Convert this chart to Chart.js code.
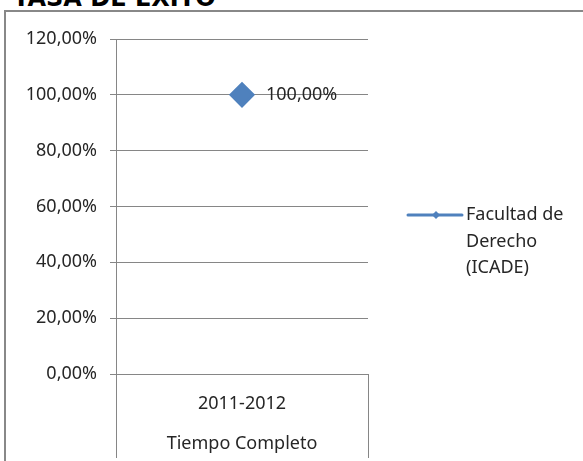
<!DOCTYPE html>
<html>
<head>
<meta charset="utf-8">
<script src="https://cdn.jsdelivr.net/npm/chart.js@4"></script>
<style>
    html, body { margin: 0; padding: 0; background: #fff; }
    #wrap { position: relative; width: 583px; height: 461px; overflow: hidden; }
    #title {
        position: absolute; left: 13px; top: -16px; margin: 0;
        font: bold 24px "DejaVu Sans", Verdana, sans-serif; color: #000; white-space: nowrap;
    }
    #frame { position: absolute; left: 4px; top: 10px; width: 620px; height: 520px; border: 2px solid #888; }
    canvas { position: absolute; left: 0; top: 0; }
</style>
</head>
<body>
<div id="wrap">
    <div id="title">TASA DE ÉXITO</div>
    <div id="frame"></div>
    <canvas id="chart" width="583" height="461"></canvas>
</div>
<script>
// ── Data ──
const categories = [['2011-2012', 'Tiempo Completo']];
const seriesName = 'Facultad de Derecho (ICADE)';
const legendLines = ['Facultad de', 'Derecho', '(ICADE)'];
const successRate = [100];
const yTicks = [0, 20, 40, 60, 80, 100, 120];

const blue = '#4F81BD';
const txt = '#262626';
const gridCol = '#868686';
const fontFam = '"Noto Sans", "Open Sans", sans-serif';
const fontSize = 18;

const pct = v => v.toFixed(2).replace('.', ',') + '%';

// data label to the right of each point
const valueLabels = {
    id: 'valueLabels',
    afterDatasetsDraw(chart) {
        const ctx = chart.ctx;
        chart.getDatasetMeta(0).data.forEach((pt, i) => {
            ctx.save();
            ctx.font = fontSize + 'px ' + fontFam;
            ctx.fillStyle = txt;
            ctx.textBaseline = 'middle';
            ctx.textAlign = 'left';
            ctx.fillText(pct(successRate[i]), pt.x + 24, pt.y);
            ctx.restore();
        });
    }
};

// legend on the right: line with small diamond + wrapped name
const sideLegend = {
    id: 'sideLegend',
    afterDraw(chart) {
        const ctx = chart.ctx;
        const a = chart.chartArea;
        const x0 = a.right + 40, y0 = a.top + 176;
        ctx.save();
        ctx.strokeStyle = blue;
        ctx.lineWidth = 3;
        ctx.lineCap = 'round';
        ctx.beginPath();
        ctx.moveTo(x0, y0);
        ctx.lineTo(x0 + 54, y0);
        ctx.stroke();
        ctx.fillStyle = blue;
        ctx.beginPath();
        const cx = x0 + 28;
        ctx.moveTo(cx, y0 - 4); ctx.lineTo(cx + 4, y0); ctx.lineTo(cx, y0 + 4); ctx.lineTo(cx - 4, y0);
        ctx.closePath();
        ctx.fill();
        ctx.font = fontSize + 'px ' + fontFam;
        ctx.fillStyle = txt;
        ctx.textBaseline = 'middle';
        legendLines.forEach((line, i) => ctx.fillText(line, x0 + 58, y0 + i * 26.5));
        ctx.restore();
    }
};

new Chart(document.getElementById('chart'), {
    type: 'line',
    data: {
        labels: categories,
        datasets: [{
            label: seriesName,
            data: successRate,
            borderColor: blue,
            backgroundColor: blue,
            borderWidth: 3,
            pointStyle: 'rectRot',
            pointRadius: 11,
            pointHoverRadius: 11,
            pointBackgroundColor: blue,
            pointBorderColor: blue
        }]
    },
    options: {
        responsive: false,
        devicePixelRatio: 1,
        animation: false,
        layout: { padding: { top: 39, right: 215, left: 0, bottom: 0 } },
        plugins: { legend: { display: false }, tooltip: { enabled: false } },
        scales: {
            x: {
                offset: true,
                grid: { offset: true, drawOnChartArea: false, color: gridCol, tickLength: 84 },
                border: { display: false },
                ticks: { color: txt, padding: -74, font: { family: fontFam, size: fontSize, lineHeight: 40 / fontSize } },
                afterFit: s => { s.height = 87; }
            },
            y: {
                min: 0, max: 120,
                afterBuildTicks: s => { s.ticks = yTicks.map(v => ({ value: v })); },
                grid: { color: gridCol, tickLength: 6 },
                border: { color: gridCol },
                ticks: { color: txt, padding: 13, callback: v => pct(v), font: { family: fontFam, size: fontSize } },
                afterFit: s => { s.width = 116; }
            }
        }
    },
    plugins: [valueLabels, sideLegend]
});
</script>
</body>
</html>
